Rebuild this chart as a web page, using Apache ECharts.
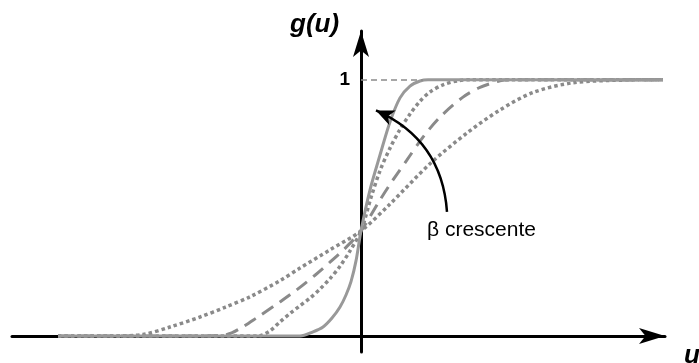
<!DOCTYPE html>
<html>
<head>
<meta charset="utf-8">
<script src="https://cdn.jsdelivr.net/npm/echarts@6/dist/echarts.min.js"></script>
<style>
  html, body { margin: 0; padding: 0; background: #fff; }
  #chart { width: 699px; height: 363px; }
</style>
</head>
<body>
<div id="chart"></div>
<script>
// Activation curves g(u) for increasing beta, as [u, g] pairs
const curveSteepest = [
  [-3.03, 0], [-0.61, 0], [-0.48, 0.016], [-0.38, 0.035], [-0.29, 0.07],
  [-0.21, 0.113], [-0.15, 0.16], [-0.1, 0.212], [-0.05, 0.293], [0, 0.41],
  [0.09, 0.57], [0.19, 0.706], [0.29, 0.835], [0.39, 0.929], [0.49, 0.975],
  [0.59, 0.995], [0.67, 1], [3.02, 1]
];
const curveSteep = [
  [-3.03, 0], [-1.03, 0], [-0.91, 0.02], [-0.81, 0.055], [-0.71, 0.088],
  [-0.61, 0.118], [-0.51, 0.148], [-0.41, 0.183], [-0.31, 0.224], [-0.21, 0.272],
  [-0.11, 0.332], [0, 0.41], [0.1, 0.54], [0.19, 0.645],
  [0.29, 0.733], [0.39, 0.806], [0.49, 0.866], [0.59, 0.916], [0.69, 0.952],
  [0.82, 0.98], [0.97, 0.996], [1.09, 1], [3.02, 1]
];
const curveMedium = [
  [-3.03, 0], [-1.61, 0], [-1.34, 0.006], [-1.21, 0.029], [-1.04, 0.072],
  [-0.81, 0.133], [-0.64, 0.181], [-0.46, 0.237], [-0.31, 0.288], [-0.16, 0.342],
  [0, 0.41], [0.19, 0.531], [0.32, 0.609], [0.46, 0.687],
  [0.62, 0.776], [0.79, 0.854], [1.02, 0.932], [1.19, 0.97], [1.39, 0.996],
  [1.49, 1], [3.02, 1]
];
const curveShallow = [
  [-3.03, 0], [-2.5, 0], [-2.18, 0.006], [-1.91, 0.035], [-1.61, 0.074],
  [-1.36, 0.112], [-1.11, 0.153], [-0.81, 0.216], [-0.61, 0.265], [-0.31, 0.336],
  [0, 0.41], [0.29, 0.515], [0.69, 0.672], [1.06, 0.792], [1.39, 0.882],
  [1.72, 0.95], [2.12, 0.988], [2.69, 0.999], [3.02, 1]
];
// Saturation level guide and the "increasing beta" arrow
const saturationLine = [[0, 1], [0.62, 1]];
const betaArrow = [[0.86, 0.484], [0.15, 0.88]];
const betaLabel = 'β crescente';

const gray = '#8a8a8a';

function curve(data, dash, color, width) {
  return {
    type: 'line',
    data: data,
    showSymbol: false,
    smooth: 0.3,
    silent: true,
    lineStyle: { color: color || gray, width: width || 3, type: dash, cap: 'butt' },
    z: 2
  };
}

const chart = echarts.init(document.getElementById('chart'));
chart.setOption({
  animation: false,
  backgroundColor: '#fff',
  grid: { left: 12, right: 34, top: 31, bottom: 11 },
  xAxis: {
    type: 'value', min: -3.49, max: 3.04,
    axisLine: { onZero: true, symbol: ['none', 'arrow'], symbolSize: [12, 26],
      lineStyle: { color: '#000', width: 3 } },
    axisTick: { show: false }, axisLabel: { show: false }, splitLine: { show: false }
  },
  yAxis: {
    type: 'value', min: -0.0625, max: 1.19,
    axisLine: { onZero: true, symbol: ['none', 'arrow'], symbolSize: [12, 26],
      lineStyle: { color: '#000', width: 3 } },
    axisTick: { show: false }, axisLabel: { show: false }, splitLine: { show: false }
  },
  series: [
    {
      type: 'line', data: [], silent: true, z: 1,
      markLine: {
        silent: true, symbol: 'none', animation: false,
        lineStyle: { color: gray, width: 1.5, type: [6, 4] },
        label: { show: true, position: 'start', distance: 11, formatter: '1',
          color: '#000', fontSize: 19, fontWeight: 'bold', fontFamily: 'Liberation Sans' },
        data: [[{ coord: saturationLine[0] }, { coord: saturationLine[1] }]]
      }
    },
    curve(curveShallow, [3.5, 3], gray, 3.5),
    curve(curveMedium, [13, 8]),
    curve(curveSteep, [3.5, 3], gray, 3.5),
    curve(curveSteepest, 'solid', '#999'),
    {
      type: 'lines', coordinateSystem: 'cartesian2d', silent: true, z: 5,
      symbol: ['none', 'arrow'], symbolSize: [1, [12, 18]],
      lineStyle: { color: '#000', width: 2.5, curveness: -0.3, opacity: 1 },
      data: [{ coords: betaArrow }]
    }
  ],
  graphic: [
    { type: 'text', x: 290, y: 25, style: { text: 'g(u)', fill: '#000',
      font: 'italic bold 26px "Liberation Sans"', verticalAlign: 'middle', align: 'left' } },
    { type: 'text', x: 684, y: 356, style: { text: 'u', fill: '#000',
      font: 'italic bold 26px "Liberation Sans"', verticalAlign: 'middle', align: 'left' } },
    { type: 'text', x: 427, y: 230, style: { text: betaLabel, fill: '#000',
      font: '21px "Liberation Sans"', verticalAlign: 'middle', align: 'left' } }
  ]
});
</script>
</body>
</html>
